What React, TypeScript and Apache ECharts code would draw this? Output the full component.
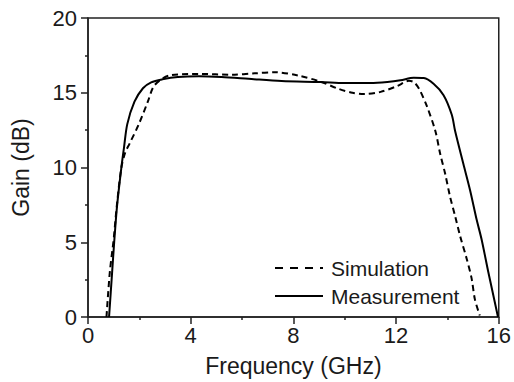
import React, { useEffect, useRef } from "react";
import * as echarts from "echarts";

const xTicks = [0, 4, 8, 12, 16];
const yTicks = [0, 5, 10, 15, 20];

const simulation: [number, number][] = [
  [0.72, 0], [0.85, 3], [1.0, 5.2], [1.12, 7.4], [1.3, 10], [1.45, 11.0], [1.62, 11.6],
  [1.98, 12.9], [2.33, 14.4], [2.59, 15.5], [3.17, 16.15], [4.32, 16.26], [5.61, 16.2],
  [6.5, 16.3], [7.28, 16.37], [8.19, 16.15], [9.09, 15.72], [9.73, 15.28], [10.3, 15.0],
  [10.76, 14.91], [11.4, 15.06], [12.05, 15.45], [12.5, 15.8], [12.7, 15.7], [12.9, 15.25], [13.2, 14.1],
  [13.53, 12.44], [13.72, 10.9], [13.91, 9.6], [14.1, 8.07], [14.3, 6.75], [14.49, 5.44],
  [14.75, 3.9], [14.94, 2.6], [15.07, 1.18], [15.26, 0.1],
];

const measurement: [number, number][] = [
  [0.82, 0], [0.94, 3.0], [1.02, 5.0], [1.13, 7.4], [1.3, 10.0], [1.4, 11.3], [1.53, 12.9],
  [1.81, 14.4], [2.14, 15.3], [2.46, 15.7], [2.9, 15.9], [3.5, 16.05], [4.32, 16.1],
  [5.2, 16.05], [6.25, 15.93], [7.54, 15.78], [9.07, 15.72], [9.99, 15.65], [11.0, 15.65],
  [11.66, 15.72], [12.17, 15.83], [12.69, 16.0], [13.08, 15.98], [13.46, 15.6], [13.85, 14.84],
  [14.17, 13.53], [14.3, 12.44], [14.62, 10.25], [14.88, 8.5], [15.14, 6.5], [15.33, 5.2],
  [15.59, 3.03], [15.97, 0],
];

const seriesNames = ["Simulation", "Measurement"];
const FONT = "Liberation Sans, Arial, sans-serif";
const TEXT = "#1a1a1a";

export default function App() {
  const ref = useRef<HTMLDivElement>(null);
  useEffect(() => {
    if (!ref.current) return;
    const chart = echarts.init(ref.current, undefined, { renderer: "svg" });
    const axisCommon = {
      axisLine: { show: true, lineStyle: { color: "#222", width: 1.5 } },
      axisTick: { show: true, inside: false, length: 7, lineStyle: { color: "#222", width: 1.5 } },
      minorTick: { show: true, splitNumber: 2, length: 3, lineStyle: { color: "#222", width: 1.5 } },
      splitLine: { show: false },
      axisLabel: { color: TEXT, fontSize: 22, fontFamily: FONT },
      nameTextStyle: { color: TEXT, fontSize: 23, fontFamily: FONT },
    };
    chart.setOption({
      animation: false,
      backgroundColor: "#fff",
      grid: {
        left: 88, right: 12, top: 18, bottom: 59,
        show: true, borderColor: "#222", borderWidth: 1.5, backgroundColor: "transparent",
      },
      xAxis: {
        type: "value", min: xTicks[0], max: xTicks[xTicks.length - 1], interval: 4,
        name: "Frequency (GHz)", nameLocation: "middle", nameGap: 37,
        ...axisCommon,
        axisLabel: { ...axisCommon.axisLabel, margin: 7 },
      },
      yAxis: {
        type: "value", min: yTicks[0], max: yTicks[yTicks.length - 1], interval: 5,
        name: "Gain (dB)", nameLocation: "middle", nameGap: 56,
        ...axisCommon,
        axisLabel: { ...axisCommon.axisLabel, margin: 11 },
      },
      series: [
        {
          name: seriesNames[0], type: "line", data: simulation, showSymbol: false, smooth: 0.3,
          lineStyle: { color: "#000", width: 2, type: [6, 4] },
        },
        {
          name: seriesNames[1], type: "line", data: measurement, showSymbol: false, smooth: 0.3,
          lineStyle: { color: "#000", width: 2 },
        },
      ],
      graphic: [
        { type: "line", shape: { x1: 275, y1: 268, x2: 323, y2: 268 }, style: { stroke: "#000", lineWidth: 2, lineDash: [8, 7] } },
        { type: "text", x: 331, y: 268, style: { text: seriesNames[0], fill: TEXT, font: `21px ${FONT}`, verticalAlign: "middle" } },
        { type: "line", shape: { x1: 275, y1: 296, x2: 323, y2: 296 }, style: { stroke: "#000", lineWidth: 2 } },
        { type: "text", x: 331, y: 296, style: { text: seriesNames[1], fill: TEXT, font: `21px ${FONT}`, verticalAlign: "middle" } },
      ],
    });
    return () => chart.dispose();
  }, []);
  return <div ref={ref} style={{ width: 514, height: 382, position: "absolute", left: 0, top: 0 }} />;
}
